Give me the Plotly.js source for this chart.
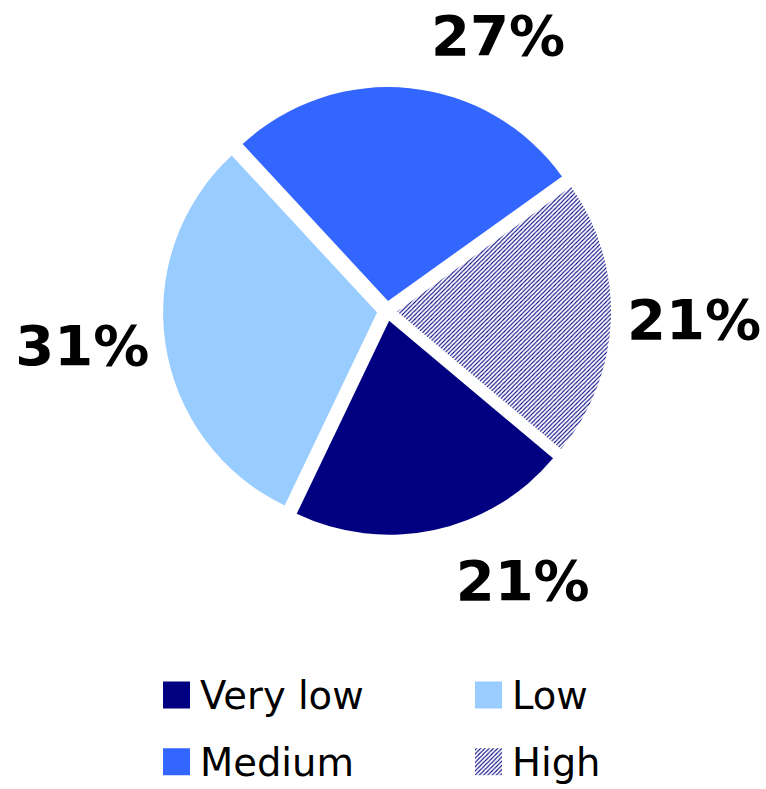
<!DOCTYPE html>
<html>
<head>
<meta charset="utf-8">
<script src="https://cdn.plot.ly/plotly-3.0.1.min.js"></script>
<style>
  html, body { margin: 0; padding: 0; background: #fff; }
  #chart { width: 766px; height: 789px; }
</style>
</head>
<body>
<div id="chart"></div>
<script>
// Data
const labels = ['Very low', 'Low', 'Medium', 'High'];
const values = [21, 31, 27, 21];
const sliceColors = ['#000080', '#99CCFF', '#3366FF', '#FFFFFF'];
const slicePatterns = ['', '', '', '/'];

const legendLabels = labels.map(l => '<span style="font-size:38.5px">' + l + '</span>');

// percent label text; a small spacer line keeps the top/bottom labels a little further from the pie
const pct = '<span style="font-size:56px">%{percent:.0%}</span>';
const spacer = '\u00a0';
const labelTemplates = [spacer + '<br>' + pct, pct, pct + '<br>' + spacer, pct];
const labelBaseSizes = [32.5, 25, 22, 25];

const trace = {
  type: 'pie',
  labels: legendLabels,
  values: values,
  sort: false,
  direction: 'clockwise',
  rotation: 130,
  pull: 0.047,
  marker: {
    colors: sliceColors,
    line: { width: 0 },
    pattern: {
      shape: slicePatterns,
      fgcolor: '#000080',
      bgcolor: '#FFFFFF',
      size: 3,
      solidity: 0.35
    }
  },
  textinfo: 'percent',
  texttemplate: labelTemplates,
  textposition: 'outside',
  outsidetextfont: { family: 'DejaVu Sans', size: labelBaseSizes, color: '#000000', weight: 'bold' },
  hoverinfo: 'label+percent',
  domain: { x: [0.2128, 0.7977], y: [0.3219, 0.8897] }
};

const layout = {
  width: 766,
  height: 789,
  margin: { l: 0, r: 0, t: 0, b: 0, autoexpand: false },
  paper_bgcolor: '#FFFFFF',
  showlegend: true,
  legend: {
    orientation: 'h',
    x: 0.2089,
    xanchor: 'left',
    y: 0.1741,
    yanchor: 'top',
    font: { family: 'DejaVu Sans', size: 49, color: '#000000' },
    entrywidth: 267,
    traceorder: 'normal',
    bgcolor: 'rgba(0,0,0,0)'
  }
};

Plotly.newPlot('chart', [trace], layout, { displayModeBar: false, staticPlot: true }).then(function (gd) {
  gd.querySelectorAll('path.legendpie').forEach(function (p) {
    p.setAttribute('d', 'M13.5,13.5H-13.5V-13.5H13.5Z');
    p.setAttribute('transform', 'translate(16.5,5)');
  });
});
</script>
</body>
</html>
